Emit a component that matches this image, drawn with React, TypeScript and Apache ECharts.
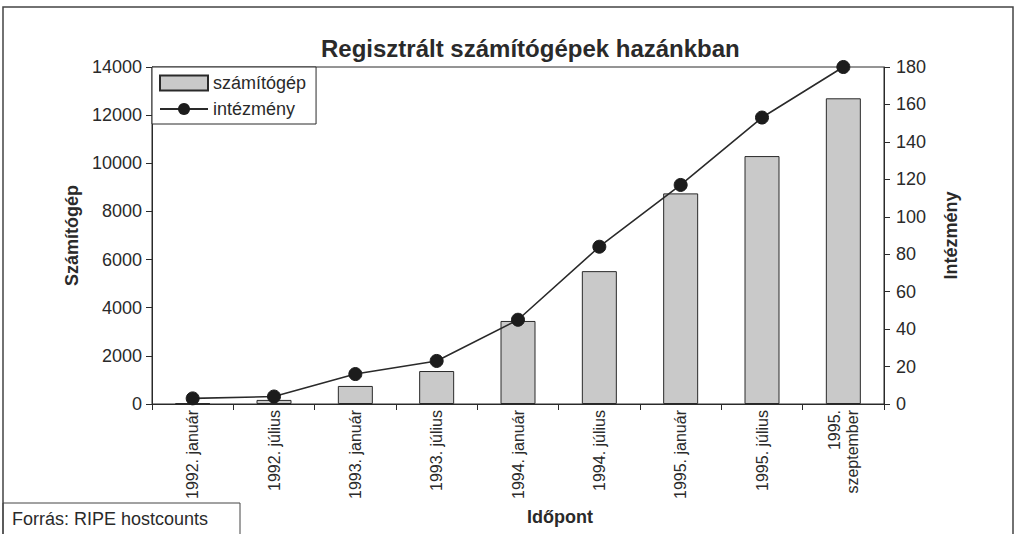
import React, { useEffect, useRef } from "react";
import * as echarts from "echarts";

const categories = [
  "1992. január",
  "1992. július",
  "1993. január",
  "1993. július",
  "1994. január",
  "1994. július",
  "1995. január",
  "1995. július",
  "1995.\nszeptember",
];
const computers = [30, 170, 750, 1370, 3450, 5520, 8750, 10300, 12700];
const institutions = [3, 4, 16, 23, 45, 84, 117, 153, 180];
const leftTicks = { min: 0, max: 14000, interval: 2000 };
const rightTicks = { min: 0, max: 180, interval: 20 };

const FONT = "'Liberation Sans', Arial, Helvetica, sans-serif";
const INK = "#2a2a2a";

export default function App() {
  const ref = useRef<HTMLDivElement>(null);
  useEffect(() => {
    if (!ref.current) return;
    const chart = echarts.init(ref.current, undefined, { renderer: "svg" });
    chart.setOption({
      animation: false,
      backgroundColor: "#ffffff",
      textStyle: { fontFamily: FONT, color: INK },
      title: {
        text: "Regisztrált számítógépek hazánkban",
        left: 316,
        top: 31,
        textStyle: { fontFamily: FONT, fontSize: 24, fontWeight: "bold", color: INK },
      },
      legend: {
        orient: "vertical",
        left: 152,
        top: 67,
        backgroundColor: "#ffffff",
        borderColor: INK,
        borderWidth: 1,
        padding: [7, 10, 6, 7],
        itemWidth: 48,
        itemHeight: 15,
        itemGap: 8,
        textStyle: { fontFamily: FONT, fontSize: 18, color: INK },
        data: [
          { name: "számítógép", icon: "rect" },
          { name: "intézmény" },
        ],
      },
      grid: {
        left: 152,
        right: 135,
        top: 67,
        bottom: 130,
        show: true,
        borderColor: INK,
        borderWidth: 1,
        backgroundColor: "transparent",
      },
      xAxis: {
        type: "category",
        data: categories,
        boundaryGap: true,
        axisLine: { lineStyle: { color: INK, width: 1 } },
        axisTick: { show: true, alignWithLabel: false, length: 6, lineStyle: { color: INK } },
        axisLabel: {
          rotate: 90,
          interval: 0,
          fontFamily: FONT,
          fontSize: 16,
          color: INK,
          margin: 6,
          lineHeight: 18,
        },
      },
      yAxis: [
        {
          type: "value",
          min: leftTicks.min,
          max: leftTicks.max,
          interval: leftTicks.interval,
          position: "left",
          splitLine: { show: false },
          axisLine: { show: true, lineStyle: { color: INK } },
          axisTick: { show: true, length: 6, lineStyle: { color: INK } },
          axisLabel: {
            fontFamily: FONT,
            fontSize: 18,
            color: INK,
            margin: 10,
            formatter: (v: number) => String(v),
          },
          name: "Számítógép",
          nameLocation: "middle",
          nameRotate: 90,
          nameGap: 66,
          nameTextStyle: { fontFamily: FONT, fontSize: 18, fontWeight: "bold", color: INK },
        },
        {
          type: "value",
          min: rightTicks.min,
          max: rightTicks.max,
          interval: rightTicks.interval,
          position: "right",
          splitLine: { show: false },
          axisLine: { show: true, lineStyle: { color: INK } },
          axisTick: { show: true, length: 6, lineStyle: { color: INK } },
          axisLabel: {
            fontFamily: FONT,
            fontSize: 18,
            color: INK,
            margin: 12,
            formatter: (v: number) => String(v),
          },
          name: "Intézmény",
          nameLocation: "middle",
          nameRotate: 90,
          nameGap: 58,
          nameTextStyle: { fontFamily: FONT, fontSize: 18, fontWeight: "bold", color: INK },
        },
      ],
      series: [
        {
          name: "számítógép",
          type: "bar",
          yAxisIndex: 0,
          data: computers,
          barWidth: 35,
          itemStyle: { color: "#c9c9c9", borderColor: INK, borderWidth: 1 },
        },
        {
          name: "intézmény",
          type: "line",
          yAxisIndex: 1,
          data: institutions,
          symbol: "circle",
          symbolSize: 13,
          lineStyle: { color: INK, width: 1.6 },
          itemStyle: { color: "#1c1c1c", borderColor: "#1c1c1c" },
          z: 5,
        },
      ],
      graphic: [
        {
          type: "rect",
          shape: { x: 3, y: 7, width: 1010, height: 540 },
          style: { fill: "none", stroke: "#444", lineWidth: 1.5 },
          silent: true,
          z: 100,
        },
        {
          type: "rect",
          shape: { x: 3, y: 503, width: 237, height: 40 },
          style: { fill: "#ffffff", stroke: "#444", lineWidth: 1 },
          silent: true,
          z: 99,
        },
        {
          type: "text",
          x: 12,
          y: 510,
          style: { text: "Forrás: RIPE hostcounts", fontFamily: FONT, fontSize: 18, fill: INK },
          z: 101,
        },
        {
          type: "text",
          x: 527,
          y: 508,
          style: { text: "Időpont", fontFamily: FONT, fontSize: 18, fontWeight: "bold", fill: INK },
          z: 101,
        },
      ],
    });
    return () => chart.dispose();
  }, []);
  return (
    <div
      ref={ref}
      style={{ position: "fixed", left: 0, top: 0, width: 1019, height: 534 }}
    />
  );
}
